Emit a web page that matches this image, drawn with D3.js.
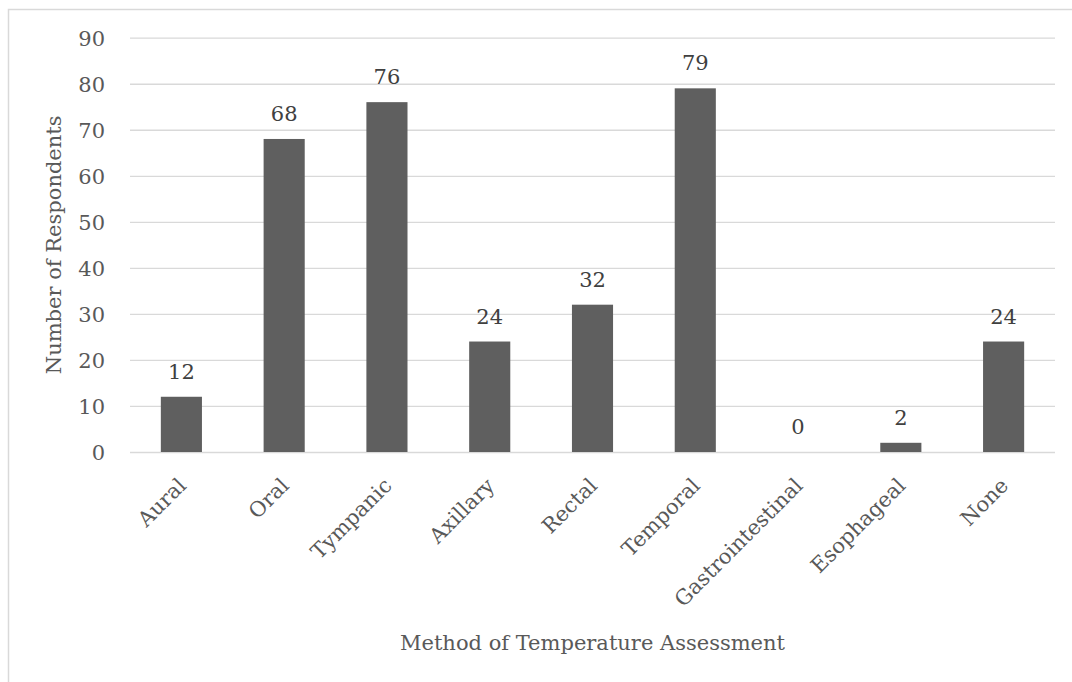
<!DOCTYPE html>
<html>
<head>
<meta charset="utf-8">
<script src="https://cdn.jsdelivr.net/npm/d3@7"></script>
<style>
  html, body { margin: 0; padding: 0; background: #fff; }
  svg { display: block; }
  svg text { font-family: "DejaVu Serif", "Liberation Serif", serif; }
</style>
</head>
<body>
<svg id="chart" width="1072" height="682"></svg>
<script>
// Methods of temperature assessment and respondent counts
const categories = ["Aural", "Oral", "Tympanic", "Axillary", "Rectal", "Temporal", "Gastrointestinal", "Esophageal", "None"];
const respondents = [12, 68, 76, 24, 32, 79, 0, 2, 24];
const yTicks = [0, 10, 20, 30, 40, 50, 60, 70, 80, 90];

const svg = d3.select("#chart");
const W = 1072, H = 682;
const plot = { left: 130, right: 1055, top: 37.7, bottom: 452 };
const FONT = 21;

// outer chart frame
svg.append("rect")
  .attr("x", 8.5).attr("y", 9.5)
  .attr("width", W).attr("height", H)
  .attr("fill", "#fff").attr("stroke", "#d9d9d9").attr("stroke-width", 1.5);

const x = d3.scaleBand()
  .domain(categories)
  .range([plot.left, plot.right])
  .paddingInner(0.6)
  .paddingOuter(0.3);

const y = d3.scaleLinear()
  .domain([0, 90])
  .range([plot.bottom, plot.top]);

// horizontal gridlines and value ticks
const yAxis = d3.axisLeft(y).tickValues(yTicks).tickSize(-(plot.right - plot.left)).tickPadding(25);
const gy = svg.append("g")
  .attr("transform", `translate(${plot.left},0)`)
  .call(yAxis)
  .attr("font-family", null)
  .attr("font-size", null);
gy.select(".domain").remove();
gy.selectAll(".tick line").attr("stroke", "#d9d9d9").attr("stroke-width", 1.3);
gy.selectAll(".tick text")
  .attr("fill", "#595959")
  .style("font-size", FONT + "px")
  .attr("dy", "0.36em");

// bars
svg.append("g").selectAll("rect")
  .data(categories)
  .join("rect")
  .attr("x", d => x(d))
  .attr("y", (d, i) => y(respondents[i]))
  .attr("width", x.bandwidth())
  .attr("height", (d, i) => y(0) - y(respondents[i]))
  .attr("fill", "#5f5f5f");

// value labels above bars
svg.append("g").selectAll("text")
  .data(categories)
  .join("text")
  .attr("x", d => x(d) + x.bandwidth() / 2)
  .attr("y", (d, i) => y(respondents[i]) - 18)
  .attr("text-anchor", "middle")
  .attr("fill", "#404040")
  .style("font-size", FONT + "px")
  .text((d, i) => respondents[i]);

// category labels, rotated
const xAxis = d3.axisBottom(x).tickSize(0).tickPadding(0);
const gx = svg.append("g")
  .attr("transform", `translate(0,${plot.bottom})`)
  .call(xAxis)
  .attr("font-family", null)
  .attr("font-size", null);
gx.select(".domain").remove();
gx.selectAll(".tick text")
  .attr("fill", "#595959")
  .style("font-size", FONT + "px")
  .attr("text-anchor", "end")
  .attr("dy", null)
  .attr("y", 0)
  .attr("transform", "translate(6,35) rotate(-45)");

// axis titles
svg.append("text")
  .attr("x", (plot.left + plot.right) / 2)
  .attr("y", 650)
  .attr("text-anchor", "middle")
  .attr("fill", "#595959")
  .style("font-size", FONT + "px")
  .text("Method of Temperature Assessment");

svg.append("text")
  .attr("transform", `translate(61,${(plot.top + plot.bottom) / 2}) rotate(-90)`)
  .attr("text-anchor", "middle")
  .attr("fill", "#595959")
  .style("font-size", FONT + "px")
  .text("Number of Respondents");
</script>
</body>
</html>
